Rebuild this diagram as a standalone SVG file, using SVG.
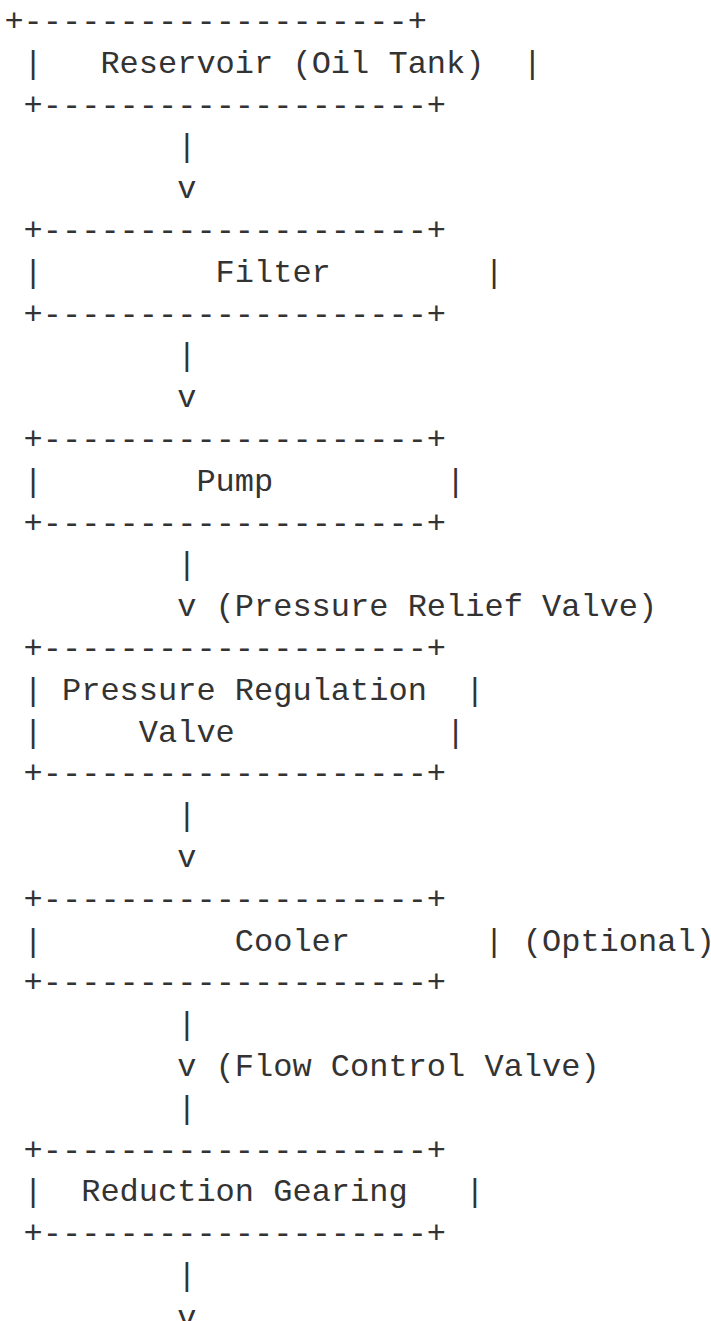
<svg xmlns="http://www.w3.org/2000/svg" width="711" height="1321" viewBox="0 0 711 1321">
<style>
text { font-family: "Liberation Mono", "Courier New", monospace; font-size: 32px; fill: #333333; }
</style>
<rect x="0" y="0" width="711" height="1321" fill="#ffffff"/>
<g id="reservoir">
  <text x="4.4" y="31">+--------------------+</text>
  <text x="23.6" y="72.8">|</text>
  <text x="100.4" y="72.8">Reservoir (Oil Tank)</text>
  <text x="522.8" y="72.8">|</text>
  <text x="23.6" y="114.6">+--------------------+</text>
</g>
<g id="filter">
  <text x="23.6" y="240">+--------------------+</text>
  <text x="23.6" y="281.8">|</text>
  <text x="215.6" y="281.8">Filter</text>
  <text x="484.4" y="281.8">|</text>
  <text x="23.6" y="323.6">+--------------------+</text>
</g>
<g id="pump">
  <text x="23.6" y="449">+--------------------+</text>
  <text x="23.6" y="490.8">|</text>
  <text x="196.4" y="490.8">Pump</text>
  <text x="446" y="490.8">|</text>
  <text x="23.6" y="532.6">+--------------------+</text>
</g>
<g id="pressure-regulation-valve">
  <text x="23.6" y="658">+--------------------+</text>
  <text x="23.6" y="699.8">|</text>
  <text x="62" y="699.8">Pressure Regulation</text>
  <text x="465.2" y="699.8">|</text>
  <text x="23.6" y="741.6">|</text>
  <text x="138.8" y="741.6">Valve</text>
  <text x="446" y="741.6">|</text>
  <text x="23.6" y="783.4">+--------------------+</text>
</g>
<g id="cooler">
  <text x="23.6" y="908.8">+--------------------+</text>
  <text x="23.6" y="950.6">|</text>
  <text x="234.8" y="950.6">Cooler</text>
  <text x="484.4" y="950.6">|</text>
  <text x="522.8" y="950.6">(Optional)</text>
  <text x="23.6" y="992.4">+--------------------+</text>
</g>
<g id="reduction-gearing">
  <text x="23.6" y="1159.6">+--------------------+</text>
  <text x="23.6" y="1201.4">|</text>
  <text x="81.2" y="1201.4">Reduction Gearing</text>
  <text x="465.2" y="1201.4">|</text>
  <text x="23.6" y="1243.2">+--------------------+</text>
</g>
<g id="connectors">
  <text x="177.2" y="156.4">|</text>
  <text x="177.2" y="198.2">v</text>
  <text x="177.2" y="365.4">|</text>
  <text x="177.2" y="407.2">v</text>
  <text x="177.2" y="574.4">|</text>
  <text x="177.2" y="616.2">v</text>
  <text x="215.6" y="616.2">(Pressure Relief Valve)</text>
  <text x="177.2" y="825.2">|</text>
  <text x="177.2" y="867">v</text>
  <text x="177.2" y="1034.2">|</text>
  <text x="177.2" y="1076">v</text>
  <text x="215.6" y="1076">(Flow Control Valve)</text>
  <text x="177.2" y="1117.8">|</text>
  <text x="177.2" y="1285">|</text>
  <text x="177.2" y="1326.8">v</text>
</g>
</svg>
